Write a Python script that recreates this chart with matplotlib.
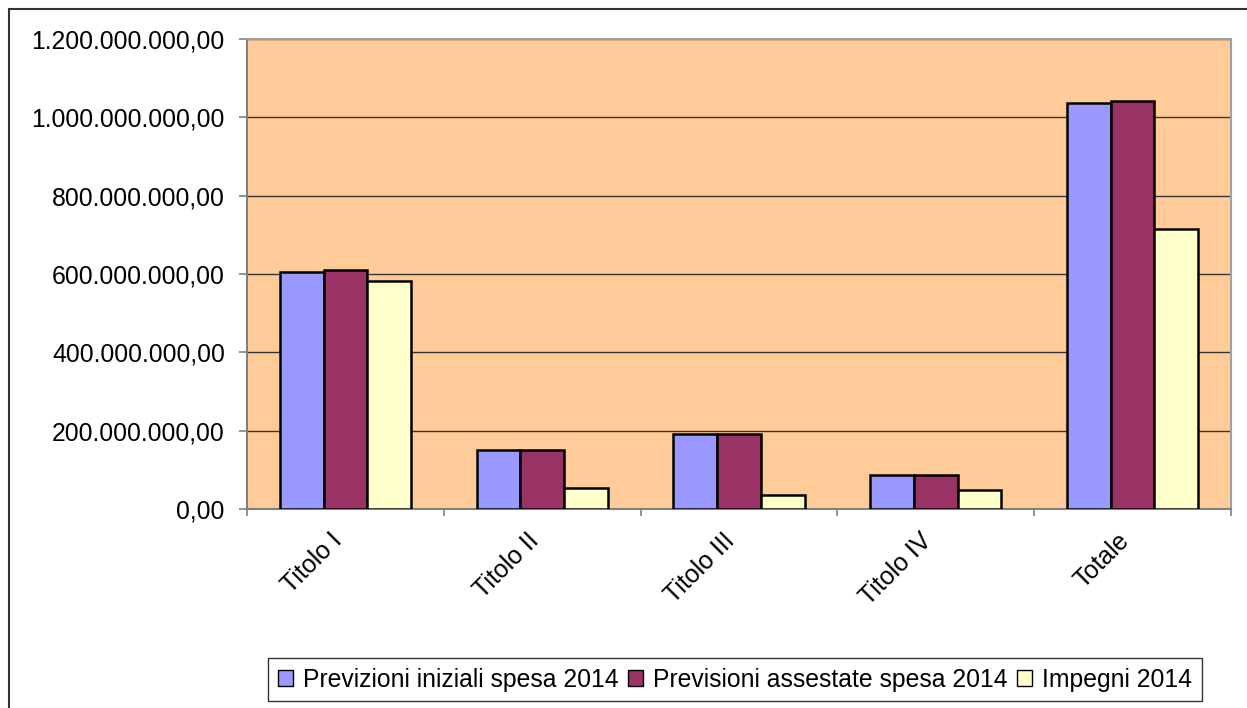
import matplotlib.pyplot as plt
import matplotlib.ticker as mticker
import matplotlib.transforms as mtransforms
from matplotlib.patches import Rectangle
import numpy as np

categories = ["Titolo I", "Titolo II", "Titolo III", "Titolo IV", "Totale"]
previsioni_iniziali = [605e6, 151e6, 192e6, 87e6, 1036e6]
previsioni_assestate = [611e6, 151e6, 192e6, 87e6, 1042e6]
impegni = [582e6, 53e6, 35e6, 48e6, 715e6]
series_labels = ["Previzioni iniziali spesa 2014", "Previsioni assestate spesa 2014", "Impegni 2014"]
colors = ["#9999FF", "#993366", "#FFFFCC"]

plt.rcParams['font.family'] = ['Liberation Sans', 'DejaVu Sans']

fig = plt.figure(figsize=(12.47, 7.08), dpi=100)
ax = fig.add_axes([247 / 1247, 1 - 509 / 708, 984 / 1247, 470 / 708])
ax.set_facecolor("#FFCC99")

x = np.arange(len(categories))
w = 0.222
for i, (vals, lab, col) in enumerate(zip([previsioni_iniziali, previsioni_assestate, impegni], series_labels, colors)):
    ax.bar(x + (i - 1) * w, vals, width=w, color=col, edgecolor="black", linewidth=1.8, label=lab, zorder=3)

ax.set_xlim(-0.5, len(categories) - 0.5)
ax.set_ylim(0, 1.2e9)
ax.yaxis.set_major_locator(mticker.MultipleLocator(2e8))


def it_fmt(v, pos):
    s = f"{v:,.2f}"
    return s.replace(",", "X").replace(".", ",").replace("X", ".")


ax.yaxis.set_major_formatter(mticker.FuncFormatter(it_fmt))
ax.grid(axis="y", color="#333333", linewidth=1.0, zorder=1)

ax.set_xticks(x)
ax.set_xticklabels(categories, rotation=45, ha="right", va="top", rotation_mode="anchor", fontsize=18)
ax.tick_params(axis="x", which="major", length=0, pad=14)
shift = mtransforms.ScaledTranslation(-0.16, 0, fig.dpi_scale_trans)
for lbl in ax.get_xticklabels():
    lbl.set_transform(lbl.get_transform() + shift)
ax.set_xticks(np.arange(len(categories) + 1) - 0.5, minor=True)
ax.tick_params(axis="x", which="minor", length=5, color="#808080", width=1.2)
ax.tick_params(axis="y", length=6, color="#808080", width=1.2, labelsize=17.8, pad=10)

for side in ["left", "bottom"]:
    ax.spines[side].set_color("#808080")
    ax.spines[side].set_linewidth(1.5)
for side in ["top", "right"]:
    ax.spines[side].set_color("#A0A0A0")
    ax.spines[side].set_linewidth(1.5)

leg = ax.legend(loc="center", bbox_to_anchor=(0.496, -0.363), ncol=3, fontsize=17.8,
                frameon=True, fancybox=False, edgecolor="black", handlelength=0.6, handleheight=0.6,
                handletextpad=0.4, columnspacing=0.4, borderpad=0.4, borderaxespad=0)
leg.get_frame().set_linewidth(1.0)
for h in leg.legend_handles:
    h.set_linewidth(1.0)

# outer chart frame
fig.patches.append(Rectangle((9 / 1247, -0.05), 1.2, 699 / 708 + 0.05, transform=fig.transFigure,
                             fill=False, edgecolor="#333333", linewidth=1.5))

fig.savefig("out.png", dpi=100)
